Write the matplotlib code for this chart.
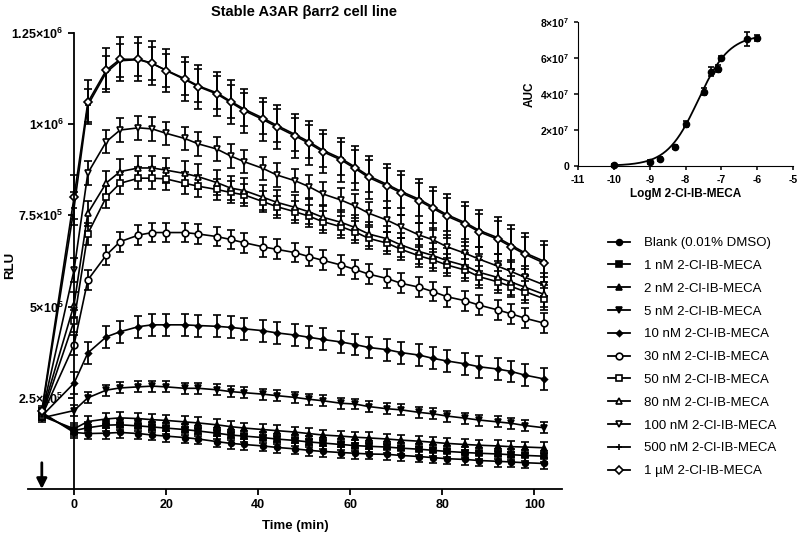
import matplotlib
matplotlib.use('Agg')
import matplotlib.pyplot as plt
import numpy as np
from matplotlib.lines import Line2D

plt.rcParams['font.family'] = ['Liberation Sans', 'DejaVu Sans']
plt.rcParams['mathtext.fontset'] = 'custom'
plt.rcParams['mathtext.rm'] = 'Liberation Sans'
plt.rcParams['mathtext.bf'] = 'Liberation Sans:bold'

# ---------------- data (RLU in thousands) ----------------
time_min = [-7, 0, 3, 7, 10, 14, 17, 20, 24, 27, 31, 34, 37, 41, 44, 48, 51, 54,
            58, 61, 64, 68, 71, 75, 78, 81, 85, 88, 92, 95, 98, 102]

blank = [210, 155, 152, 153, 155, 152, 148, 145, 141, 137, 130, 125, 122, 118, 114, 110,
         106, 103, 100, 98, 96, 95, 92, 89, 86, 83, 81, 78, 76, 74, 72, 70]
nm1 = [205, 160, 168, 175, 176, 173, 170, 167, 163, 159, 153, 148, 145, 141, 137, 133,
       129, 126, 122, 119, 117, 115, 112, 109, 106, 103, 100, 98, 96, 94, 92, 90]
nm2 = [200, 165, 185, 192, 195, 193, 190, 188, 184, 181, 176, 171, 167, 163, 160, 156,
       152, 148, 145, 142, 140, 137, 134, 131, 128, 125, 122, 120, 118, 116, 115, 113]
nm5 = [195, 215, 250, 271, 277, 280, 282, 280, 276, 276, 272, 267, 264, 260, 256, 251,
       246, 242, 235, 233, 226, 220, 217, 210, 206, 200, 194, 189, 184, 180, 174, 168]
nm10 = [200, 290, 373, 417, 431, 445, 450, 450, 450, 448, 446, 443, 439, 434, 428, 422,
        416, 410, 403, 396, 388, 382, 374, 367, 358, 351, 343, 335, 329, 322, 312, 302]
nm30 = [200, 395, 573, 641, 678, 696, 703, 703, 703, 699, 692, 684, 675, 664, 657, 648,
        637, 627, 614, 602, 589, 577, 564, 553, 541, 527, 516, 504, 491, 480, 468, 455]
nm50 = [200, 460, 700, 800, 838, 852, 852, 850, 838, 830, 821, 813, 806, 788, 774, 760,
        748, 733, 719, 705, 687, 674, 657, 639, 628, 614, 600, 582, 568, 555, 541, 522]
nm80 = [205, 505, 756, 839, 870, 880, 880, 874, 865, 856, 840, 825, 818, 800, 786, 772,
        760, 745, 731, 717, 699, 686, 669, 651, 640, 626, 612, 594, 580, 567, 553, 534]
nm100 = [205, 600, 866, 952, 984, 990, 987, 975, 961, 946, 932, 913, 897, 879, 861, 845,
         829, 809, 792, 776, 756, 737, 719, 696, 683, 664, 646, 630, 611, 596, 580, 560]
nm500 = [210, 770, 1052, 1142, 1174, 1177, 1166, 1148, 1125, 1105, 1086, 1063, 1041, 1017,
         997, 972, 952, 929, 906, 883, 858, 835, 816, 794, 773, 752, 730, 709, 689, 668,
         647, 625]
um1 = [215, 800, 1060, 1148, 1178, 1178, 1167, 1147, 1123, 1103, 1083, 1060, 1037, 1013,
       993, 968, 948, 925, 902, 879, 854, 831, 812, 790, 769, 748, 726, 705, 685, 664,
       643, 620]

series_labels = ['Blank (0.01% DMSO)', '1 nM 2-Cl-IB-MECA', '2 nM 2-Cl-IB-MECA',
                 '5 nM 2-Cl-IB-MECA', '10 nM 2-Cl-IB-MECA', '30 nM 2-Cl-IB-MECA',
                 '50 nM 2-Cl-IB-MECA', '80 nM 2-Cl-IB-MECA', '100 nM 2-Cl-IB-MECA',
                 '500 nM 2-Cl-IB-MECA', '1 \u00b5M 2-Cl-IB-MECA']
series_values = [blank, nm1, nm2, nm5, nm10, nm30, nm50, nm80, nm100, nm500, um1]
series_sem = [15, 15, 15, 15, 30, 27, 30, 34, 32, 45, 60]   # thousands
baseline_sem = 12

# inset: dose response
log_conc = [-10, -9, -8.7, -8.3, -8, -7.5, -7.3, -7.1, -7, -6.3, -6]
auc = [0.02e7, 0.22e7, 0.37e7, 1.06e7, 2.32e7, 4.11e7, 5.22e7, 5.41e7, 6.0e7, 7.04e7, 7.11e7]
auc_sem = [0.08e7, 0.1e7, 0.1e7, 0.1e7, 0.15e7, 0.2e7, 0.25e7, 0.2e7, 0.12e7, 0.4e7, 0.15e7]
fit_bottom, fit_top, fit_logec50, fit_hill = 0.0, 7.3e7, -7.65, 1.0

# ---------------- styles ----------------
marker_styles = [
    dict(marker='o', mfc='black', ms=4.2),
    dict(marker='s', mfc='black', ms=4.0),
    dict(marker='^', mfc='black', ms=4.4),
    dict(marker='v', mfc='black', ms=4.4),
    dict(marker='D', mfc='black', ms=3.0),
    dict(marker='o', mfc='white', ms=4.8),
    dict(marker='s', mfc='white', ms=4.3),
    dict(marker='^', mfc='white', ms=5.0),
    dict(marker='v', mfc='white', ms=5.0),
    dict(marker='+', mfc='black', ms=4.5),
    dict(marker='D', mfc='white', ms=4.2),
]

fig = plt.figure(figsize=(8.0, 5.49), dpi=100)
ax = fig.add_axes([0.035, 0.1093, 0.6675, 0.8306])

t = np.array(time_min, dtype=float)
for vals, sem, st in zip(series_values, series_sem, marker_styles):
    y = np.array(vals, dtype=float) * 1e3
    err = np.array([baseline_sem] + [sem] * (len(vals) - 1), dtype=float) * 1e3
    ax.errorbar(t, y, yerr=err, color='black', lw=1.2, elinewidth=1.3, capsize=2.6,
                capthick=1.3, marker=st['marker'], ms=st['ms'], mfc=st['mfc'],
                mec='black', mew=1.2, clip_on=False)

ax.set_xlim(-10, 106)
ax.set_ylim(0, 1.25e6)
ax.spines['top'].set_visible(False)
ax.spines['right'].set_visible(False)
ax.spines['left'].set_position(('data', 0))
ax.spines['left'].set_linewidth(1.3)
ax.spines['bottom'].set_linewidth(1.3)

ax.set_xticks([0, 20, 40, 60, 80, 100])
ax.set_xticklabels(['0', '20', '40', '60', '80', '100'], fontsize=9, fontweight='bold')
yt = [2.5e5, 5e5, 7.5e5, 1e6, 1.25e6]
ytl = [r'$\mathbf{2.5{\times}10^{5}}$', r'$\mathbf{5{\times}10^{5}}$',
       r'$\mathbf{7.5{\times}10^{5}}$', r'$\mathbf{1{\times}10^{6}}$',
       r'$\mathbf{1.25{\times}10^{6}}$']
ax.set_yticks(yt)
ax.set_yticklabels(ytl, fontsize=9)
ax.tick_params(axis='both', width=1.3, length=4, direction='out')
ax.set_xlabel('Time (min)', fontsize=9.5, fontweight='bold', labelpad=6)
fig.text(10 / 800, 1 - 265 / 549, 'RLU', rotation=90, fontsize=9.5, fontweight='bold',
         ha='center', va='center')
fig.text(304 / 800, 1 - 12 / 549, 'Stable A3AR \u03b2arr2 cell line', fontsize=10.5,
         fontweight='bold', ha='center', va='center')

ax.annotate('', xy=(-7, 0), xytext=(-7, 0.72e5),
            arrowprops=dict(arrowstyle='-|>', color='black', lw=2, mutation_scale=15,
                            shrinkA=0, shrinkB=0), annotation_clip=False)

# legend
handles = [Line2D([], [], color='black', lw=1.3, marker=st['marker'], ms=st['ms'],
                  mfc=st['mfc'], mec='black', mew=1.2) for st in marker_styles]
fig.legend(handles, series_labels, loc='upper left', bbox_to_anchor=(0.76, 1 - 237 / 549),
           frameon=False, fontsize=9.5, handlelength=1.7, handletextpad=1.0,
           labelspacing=0.8, borderaxespad=0, borderpad=0)

# inset
axi = fig.add_axes([0.7225, 0.698, 0.269, 0.262])
xf = np.linspace(-10, -6, 200)
yf = fit_bottom + (fit_top - fit_bottom) / (1 + 10 ** ((fit_logec50 - xf) * fit_hill))
axi.plot(xf, yf, color='black', lw=1.3)
axi.errorbar(log_conc, auc, yerr=auc_sem, fmt='o', color='black', ms=4.5, capsize=2.5,
             elinewidth=1.2, capthick=1.2, clip_on=False)
axi.set_xlim(-11, -5)
axi.set_ylim(0, 8e7)
axi.spines['top'].set_visible(False)
axi.spines['right'].set_visible(False)
axi.set_xticks([-11, -10, -9, -8, -7, -6, -5])
axi.set_xticklabels(['-11', '-10', '-9', '-8', '-7', '-6', '-5'], fontsize=7.5,
                    fontweight='bold')
axi.set_yticks([0, 2e7, 4e7, 6e7, 8e7])
axi.set_yticklabels(['0', r'$\mathbf{2{\times}10^{7}}$', r'$\mathbf{4{\times}10^{7}}$',
                     r'$\mathbf{6{\times}10^{7}}$', r'$\mathbf{8{\times}10^{7}}$'],
                    fontsize=7.5, fontweight='bold')
axi.tick_params(axis='both', width=1.1, length=3)
axi.set_xlabel('LogM 2-Cl-IB-MECA', fontsize=8.5, fontweight='bold', labelpad=2)
axi.set_ylabel('AUC', fontsize=8.5, fontweight='bold', labelpad=3)

fig.savefig('out.png', dpi=100)
